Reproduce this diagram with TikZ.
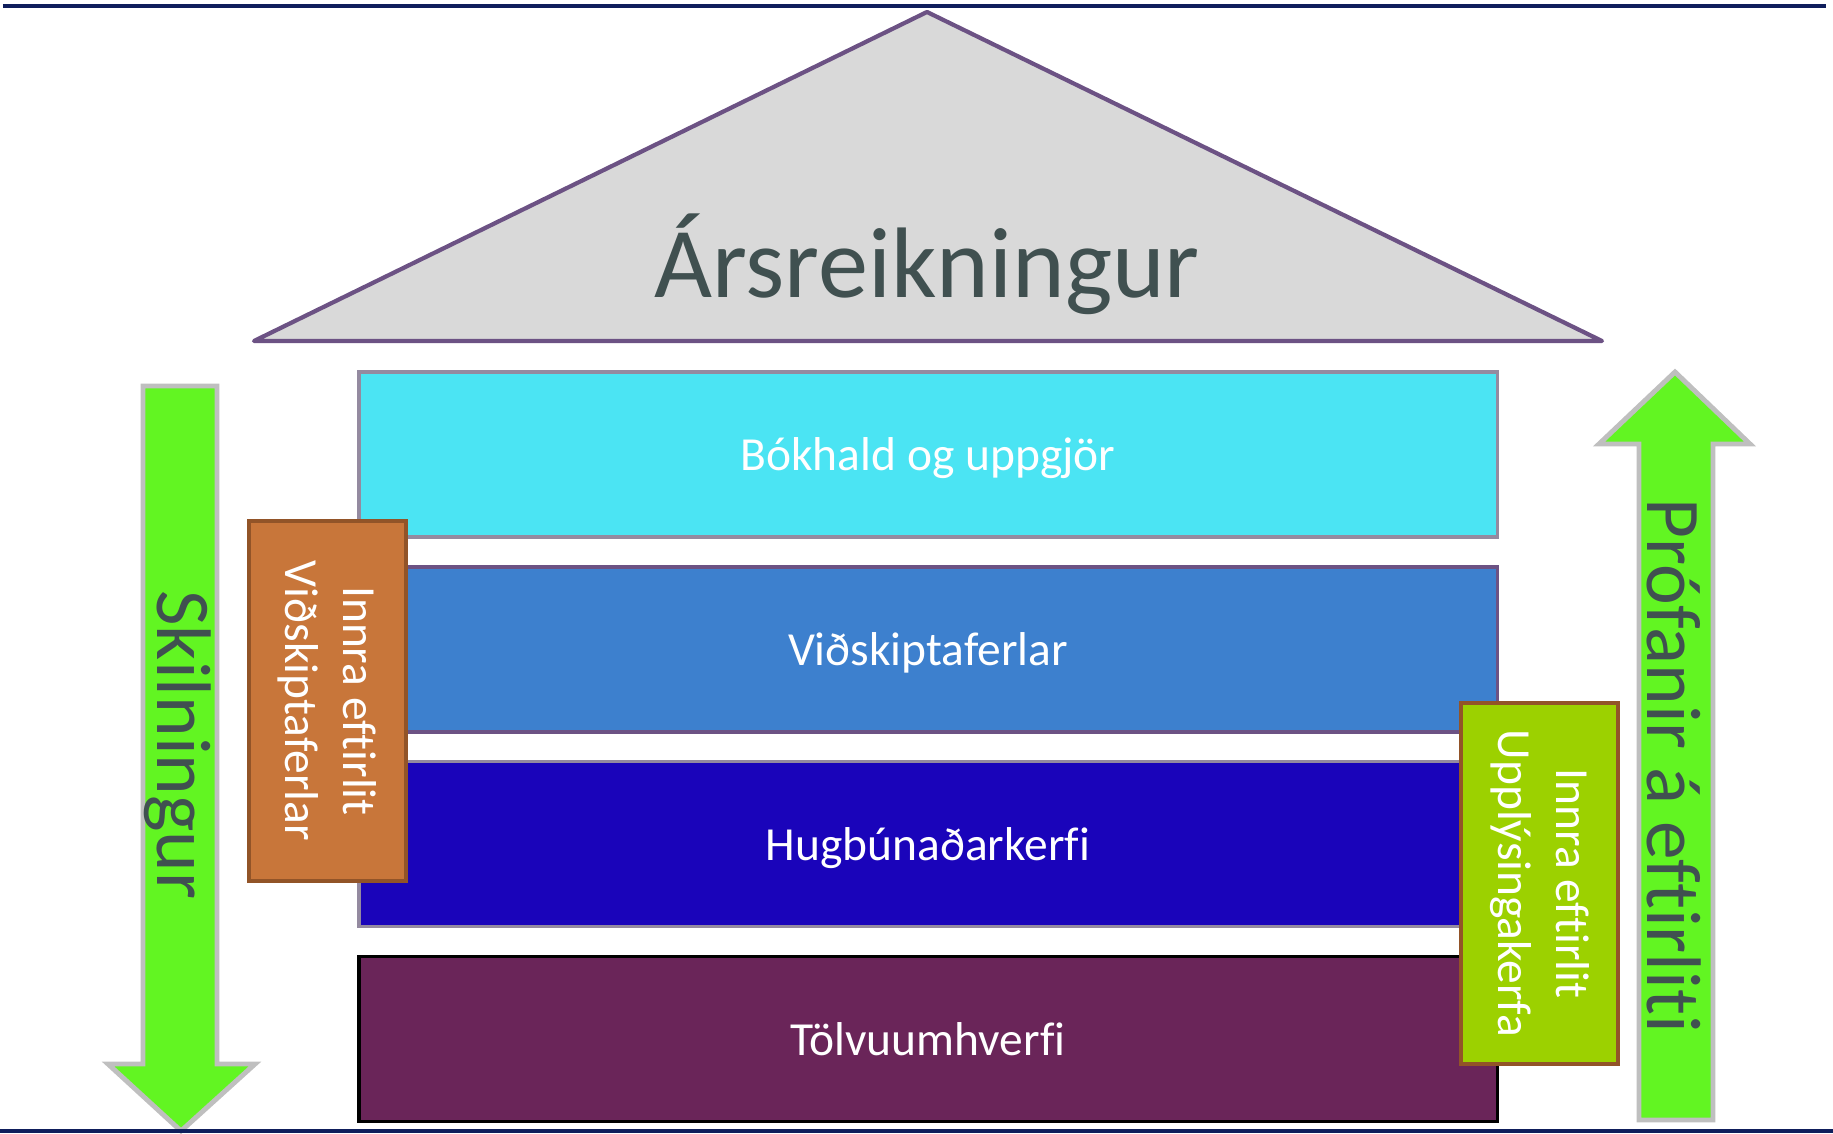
\documentclass[tikz,border=0pt]{standalone}
\usepackage{tikz,xcolor}
\usepackage{fontspec}
\setmainfont{Carlito}[Ligatures=NoCommon]
\usetikzlibrary{positioning}
\definecolor{roofgray}{RGB}{217,217,217}
\definecolor{roofline}{RGB}{108,82,132}
\definecolor{titlegray}{RGB}{64,80,80}
\definecolor{rulenavy}{RGB}{15,30,92}
\definecolor{layerline}{RGB}{148,138,160}
\definecolor{cyanlayer}{RGB}{75,228,243}
\definecolor{bluelayer}{RGB}{61,128,206}
\definecolor{darklayer}{RGB}{26,4,186}
\definecolor{plumlayer}{RGB}{106,37,89}
\definecolor{orangebox}{RGB}{200,118,58}
\definecolor{limebox}{RGB}{156,209,0}
\definecolor{boxline}{RGB}{146,84,40}
\definecolor{arrowgreen}{RGB}{98,245,34}
\definecolor{arrowgray}{RGB}{191,191,191}

\begin{document}
\begin{tikzpicture}[x=0.01cm, y=-0.01cm,
		base/.style = {draw=layerline, line width=1.05pt, minimum width=11.38cm, minimum height=1.65cm, align=center, text=white, text depth=0pt, font=\fontsize{13.5}{16.5}\selectfont},
		layer/.style = {rectangle, base},
		sidebox/.style = {rectangle, draw=boxline, line width=1.1pt, rotate=-90, minimum width=3.6cm, minimum height=1.57cm, align=center, text=white, font=\fontsize{13.5}{16.5}\selectfont},
		bigarrow/.style = {fill=arrowgreen, draw=arrowgray, line width=1.4pt},
		arrowtext/.style = {rotate=-90, text=titlegray, font=\fontsize{22}{26}\selectfont}
		]
		\useasboundingbox (0,0) rectangle (1833,1134);
		
		% arrows
		\filldraw[bigarrow] (143,386) -- (217,386) -- (217,1064) -- (255,1064) -- (181,1131) -- (108,1064) -- (143,1064) -- cycle;
		\filldraw[bigarrow] (1639,1120) -- (1639,444) -- (1599,444) -- (1675,372) -- (1750,444) -- (1713,444) -- (1713,1120) -- cycle;
		\node (L) [arrowtext] at (178,745) {Skilningur};
		\node (R) [arrowtext] at (1674,766) {Prófanir á eftirliti};
		
		% roof
		\filldraw[fill=roofgray, draw=roofline, line width=1.2pt, line join=round] (254,341) -- (927,12) -- (1602,341) -- cycle;
		\node (T) [anchor=base, text=titlegray, font=\fontsize{28.5}{34}\selectfont] at (927,298) {Ársreikningur};
		
		% layers
		\node (A) [layer, fill=cyanlayer] at (928,454.5) {Bókhald og uppgjör};
		\node (B) [layer, fill=bluelayer, draw=roofline, below=0.26cm of A] {Viðskiptaferlar};
		\node (C) [layer, fill=darklayer, below=0.26cm of B] {Hugbúnaðarkerfi};
		\node (D) [layer, fill=plumlayer, draw=black, below=0.26cm of C] {Tölvuumhverfi};
		
		% controls
		\node (E) [sidebox, fill=orangebox] at (327.5,701) {Innra eftirlit\\Viðskiptaferlar};
		\node (F) [sidebox, fill=limebox] at (1539.5,883.5) {Innra eftirlit\\Upplýsingakerfa};
		
		% rules
		\draw[rulenavy, line width=1.1pt] (3,6) -- (1826,6);
		\draw[rulenavy, line width=1.1pt] (0,1131) -- (1833,1131);
	\end{tikzpicture}
\end{document}
